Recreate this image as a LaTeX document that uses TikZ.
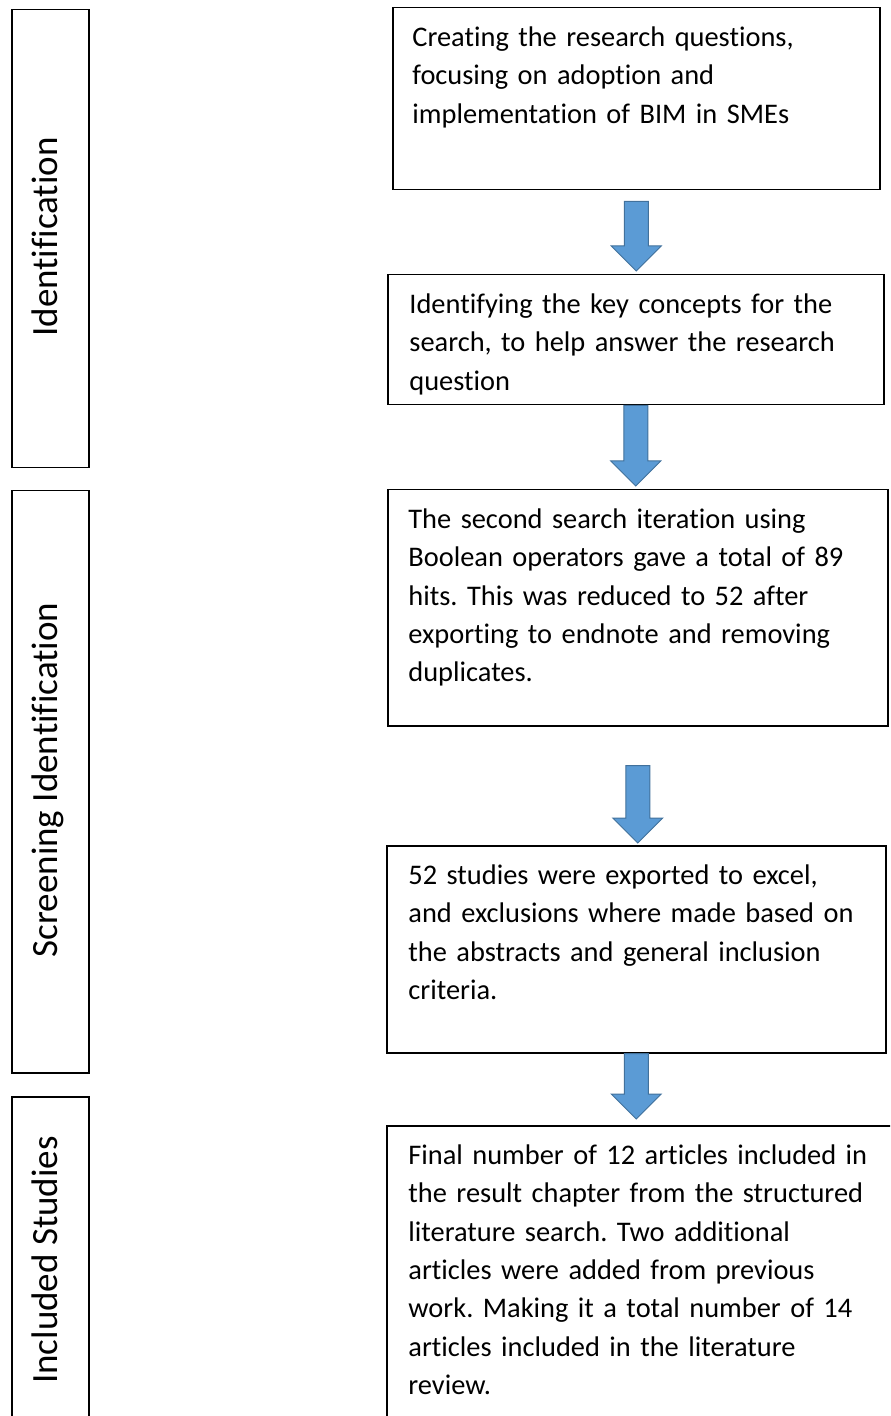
\documentclass[tikz,border=0pt]{standalone}
\usepackage{fontspec}
\setmainfont{Carlito}[Ligatures=NoCommon]
\usepackage{tikz}
\usetikzlibrary{calc}

\definecolor{arrowblue}{HTML}{5B9BD5}
\definecolor{arrowedge}{HTML}{41719C}

\newcommand{\blockarrow}[2]{%
\filldraw[arrowfill] let \p1 = (#1), \p2 = (#2) in
  (\x1-6pt,\y1) -- (\x1+6pt,\y1) -- (\x1+6pt,\y2+12.5pt) -- (\x1+12.5pt,\y2+12.5pt)
  -- (\x1,\y2) -- (\x1-12.5pt,\y2+12.5pt) -- (\x1-6pt,\y2+12.5pt) -- cycle;}

\frenchspacing

\begin{document}
\begin{tikzpicture}[x=0.5pt, y=-0.5pt,
  stepbox/.style = {draw, line width=0.75pt, anchor=north west, inner sep=0pt},
  sidebox/.style = {stepbox, minimum width=38.5pt},
  steptext/.style = {anchor=north west, inner sep=0pt, align=left, text width=245pt,
    font=\fontsize{14.2}{19.2}\selectfont},
  sidetext/.style = {rotate=90, anchor=base, inner sep=0pt, font=\fontsize{18.5}{22}\selectfont},
  arrowfill/.style = {fill=arrowblue, draw=arrowedge, line width=0.5pt}]

\useasboundingbox (0,0) rectangle (890,1416);
\clip (0,0) rectangle (890,1416);


\node[sidebox, minimum height=229pt] (ident) at (11,9) {};
\node[sidebox, minimum height=291pt] (screenside) at (11,490) {};
\node[sidebox, minimum height=165pt] (incl) at (11,1096) {};

\node[sidetext] (identlbl) at (57,237) {Identification};
\node[sidetext] (screenlbl) at (57,780) {Screening Identification};
\node[sidetext] (incllbl) at (57,1260) {Included Studies};


\node[stepbox, minimum width=243.5pt, minimum height=91pt] (q) at (392,7) {};
\node[stepbox, minimum width=248pt, minimum height=65pt] (keys) at (387,274) {};
\node[stepbox, minimum width=250pt, minimum height=118pt] (search) at (387,489) {};
\node[stepbox, minimum width=249.5pt, minimum height=103.5pt] (screen) at (386,845) {};
\node[stepbox, minimum width=256pt, minimum height=150pt] (final) at (386,1125) {};

\node[steptext] (qtext) at ([shift={(10pt,-6pt)}]q.north west)
  {\strut Creating the research questions,\\ focusing on adoption and\\ implementation of BIM in SMEs};
\node[steptext] (keystext) at ([shift={(11pt,-6pt)}]keys.north west)
  {\strut Identifying the key concepts for the\\ search, to help answer the research\\ question};
\node[steptext] (searchtext) at ([shift={(10.5pt,-6pt)}]search.north west)
  {\strut The second search iteration using\\ Boolean operators gave a total of 89\\ hits. This was reduced to 52 after\\ exporting to endnote and removing\\ duplicates.};
\node[steptext] (screentext) at ([shift={(11pt,-6pt)}]screen.north west)
  {\strut 52 studies were exported to excel,\\ and exclusions where made based on\\ the abstracts and general inclusion\\ criteria.};
\node[steptext] (finaltext) at ([shift={(11pt,-6pt)}]final.north west)
  {\strut Final number of 12 articles included in\\ the result chapter from the structured\\ literature search. Two additional\\ articles were added from previous\\ work. Making it a total number of 14\\ articles included in the literature\\ review.};


\blockarrow{[yshift=-5.5pt]q.south}{[yshift=1.5pt]keys.north}
\blockarrow{keys.south}{[yshift=1.5pt]search.north}
\blockarrow{[yshift=-19.5pt]search.south}{[yshift=1pt]screen.north}
\blockarrow{screen.south}{[yshift=3pt]final.north}

\end{tikzpicture}
\end{document}
